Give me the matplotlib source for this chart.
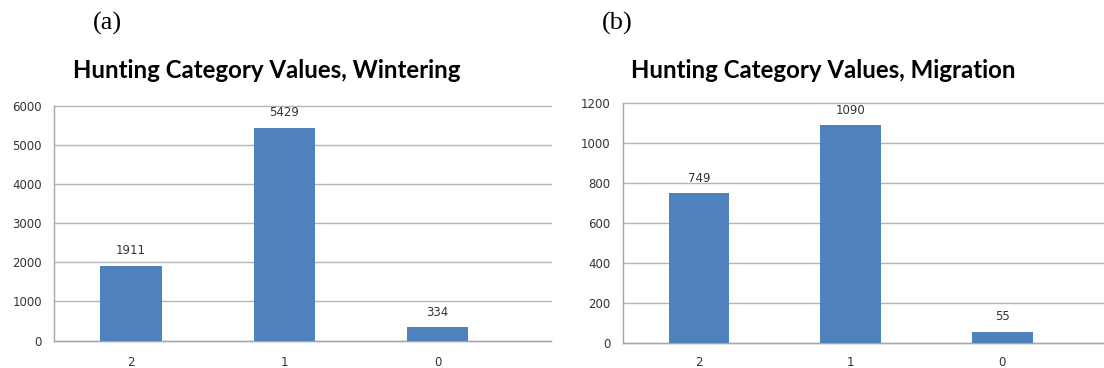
import matplotlib
matplotlib.use("Agg")
import matplotlib.pyplot as plt
from matplotlib.ticker import MultipleLocator

# Data
categories = ["2", "1", "0"]
wintering_values = [1911, 5429, 334]
migration_values = [749, 1090, 55]

panel_letters = ["(a)", "(b)"]
titles = ["Hunting Category Values, Wintering", "Hunting Category Values, Migration"]

BAR_COLOR = "#4F81BD"
GRID_COLOR = "#B4B4B4"
SPINE_COLOR = "#A6A6A6"
TEXT_COLOR = "#333333"
NUM_FONT = "DejaVu Sans"
TITLE_FONT = "Lato"

W, H = 1104, 368
fig = plt.figure(figsize=(W / 100, H / 100), dpi=100)


def px_axes(left, right, top, bottom):
    return fig.add_axes([left / W, 1 - bottom / H, (right - left) / W, (bottom - top) / H])


def draw_panel(ax, values, ymax, ystep, xmax, xpad):
    x = list(range(len(categories)))
    bars = ax.bar(x, values, width=0.4, color=BAR_COLOR, zorder=3)
    ax.set_xlim(-0.5, xmax)
    ax.set_ylim(0, ymax)
    ax.yaxis.set_major_locator(MultipleLocator(ystep))
    ax.set_xticks(x)
    ax.set_xticklabels(categories)
    ax.grid(axis="y", color=GRID_COLOR, linewidth=1.0, zorder=0)
    ax.set_axisbelow(True)
    for line in ax.get_ygridlines():
        line.set_clip_on(False)
    for side in ("top", "right"):
        ax.spines[side].set_visible(False)
    for side in ("left", "bottom"):
        ax.spines[side].set_color(SPINE_COLOR)
        ax.spines[side].set_linewidth(1.0)
    ax.tick_params(axis="both", length=0, labelsize=8.5, colors=TEXT_COLOR)
    ax.tick_params(axis="x", pad=xpad)
    ax.tick_params(axis="y", pad=9)
    for lbl in ax.get_xticklabels() + ax.get_yticklabels():
        lbl.set_fontfamily(NUM_FONT)
    for b, v in zip(bars, values):
        ax.annotate(str(v), (b.get_x() + b.get_width() / 2, v),
                    xytext=(0, 11), textcoords="offset points",
                    ha="center", va="center", fontsize=8.5,
                    color=TEXT_COLOR, fontfamily=NUM_FONT)


ax1 = px_axes(54.4, 551, 105.5, 340.5)
draw_panel(ax1, wintering_values, 6000, 1000, 2.74, 11)

ax2 = px_axes(623, 1104, 103.5, 342.5)
draw_panel(ax2, migration_values, 1200, 200, 2.67, 9.5)

# Panel letters and chart titles
for xc, letter in zip([107, 617], panel_letters):
    fig.text(xc / W, 1 - 23 / H, letter, ha="center", va="center",
             fontsize=19, fontfamily="Liberation Serif", color="black")
for xc, title in zip([266.5, 823.5], titles):
    fig.text(xc / W, 1 - 71 / H, title, ha="center", va="center",
             fontsize=17.3, fontweight="bold", fontfamily=TITLE_FONT, color="black")

fig.savefig("out.png", dpi=100)
